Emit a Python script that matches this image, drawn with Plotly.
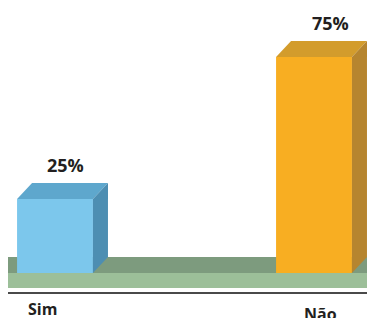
import plotly.graph_objects as go

categories = ["Sim", "Não"]
values = [25, 75]
value_labels = ["25%", "75%"]

front_colors = ["#7CC7EC", "#F8AE22"]
top_colors = ["#5EA7CD", "#D39C2C"]
side_colors = ["#4D8EB2", "#B6852F"]

# geometry (data units)
xpos = [0, 1]
bar_w = 0.293
DX = 0.058       # depth offset along x
DY = 5.63        # depth offset along y
FLOOR = -1.056   # front edge of the floor's top surface
FLOOR_FRONT = 5.3  # height of floor front face
X0, X1 = -0.1815, 1.2355
Y0, Y1 = -7.746, 92.254

fig = go.Figure()
fig.add_trace(go.Bar(x=xpos, y=[v - FLOOR for v in values], base=FLOOR, width=bar_w,
                     marker=dict(color=front_colors, line=dict(width=0)),
                     hoverinfo="skip", showlegend=False))

shapes = []
shapes.append(dict(type="rect", xref="x", yref="y", x0=X0 - 0.05, x1=X1 + 0.05, y0=FLOOR, y1=FLOOR + DY,
                   fillcolor="#7D9B7E", line=dict(width=0), layer="below"))
shapes.append(dict(type="rect", xref="x", yref="y", x0=X0 - 0.05, x1=X1 + 0.05, y0=FLOOR - FLOOR_FRONT, y1=FLOOR,
                   fillcolor="#9CBF99", line=dict(width=0), layer="above"))

for x, v, tc, sc in zip(xpos, values, top_colors, side_colors):
    xl, xr = x - bar_w / 2, x + bar_w / 2
    top = f"M {xl},{v} L {xl+DX},{v+DY} L {xr+DX},{v+DY} L {xr},{v} Z"
    side = f"M {xr},{v} L {xr+DX},{v+DY} L {xr+DX},{FLOOR+DY} L {xr},{FLOOR} Z"
    shapes.append(dict(type="path", xref="x", yref="y", path=top, fillcolor=tc, line=dict(width=0), layer="above"))
    shapes.append(dict(type="path", xref="x", yref="y", path=side, fillcolor=sc, line=dict(width=0), layer="above"))

annotations = []
label_font = dict(family="Open Sans", size=18, color="#231F20")
pct_xshift = [10, 16]
for x, v, t, xs in zip(xpos, values, value_labels, pct_xshift):
    annotations.append(dict(x=x, y=v, xref="x", yref="y", text=f"<b>{t}</b>", showarrow=False,
                            xanchor="center", yanchor="middle", xshift=xs, yshift=34, font=label_font))

cat_font = dict(family="Open Sans", size=16, color="#231F20")
cat_xshift = [-13, 6]
cat_yshift = [-17, -22]
for x, c, xs, ys in zip(xpos, categories, cat_xshift, cat_yshift):
    annotations.append(dict(x=x, y=0, xref="x", yref="paper", text=f"<b>{c}</b>", showarrow=False,
                            xanchor="center", yanchor="middle", xshift=xs, yshift=ys, font=cat_font))

fig.update_layout(
    width=367, height=310,
    margin=dict(l=0, r=0, t=0, b=26),
    paper_bgcolor="white", plot_bgcolor="white",
    shapes=shapes, annotations=annotations,
    xaxis=dict(range=[X0, X1], showgrid=False, zeroline=False, showticklabels=False, ticks="",
               showline=True, linecolor="#4A4A4A", linewidth=2, fixedrange=True),
    yaxis=dict(range=[Y0, Y1], showgrid=False, zeroline=False, showticklabels=False, ticks="",
               showline=False, fixedrange=True),
    showlegend=False,
)

fig.write_html("out.html")
